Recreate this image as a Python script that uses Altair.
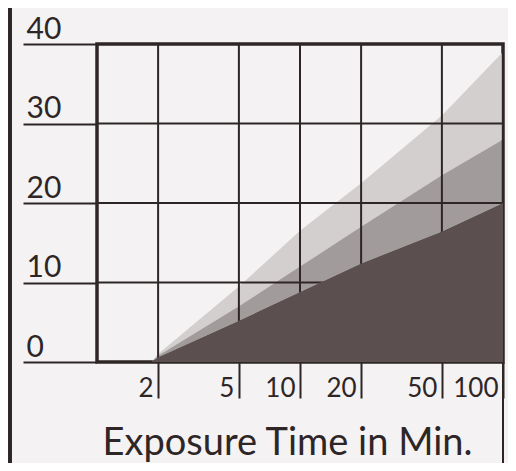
import altair as alt
import pandas as pd

# ---- data ----
t_min = [1.85, 2, 5, 10, 20, 50, 100]
dark_top = [0, 0.6, 5.2, 8.8, 12.4, 16.4, 20.0]
dense_top = [0, 0.8, 7.0, 12.0, 17.0, 23.5, 28.0]
light_top = [0, 1.0, 9.5, 16.5, 22.5, 31.0, 39.0]
zero = [0, 0, 0, 0, 0, 0, 0]
x_ticks = [2, 5, 10, 20, 50, 100]
y_ticks = [0, 10, 20, 30, 40]
x_title = "Exposure Time in Min."

INK = "#2e2626"
BG = "#f4f2f2"
FONT = "Lato"

df = pd.DataFrame({"t": t_min, "dark": dark_top, "dense": dense_top,
                   "light": light_top, "zero": zero})
xt = pd.DataFrame({"v": x_ticks})
yt = pd.DataFrame({"v": y_ticks})

W, H = 406, 318
xs = alt.Scale(type="log", domain=[1, 100], nice=False)
ys = alt.Scale(domain=[0, 40], nice=False)

x_axis = alt.Axis(values=x_ticks, grid=False, domain=False, tickSize=36, tickWidth=2,
                  tickColor=INK, labelFont=FONT, labelFontSize=26, labelColor=INK,
                  labelAlign="right", labelBaseline="alphabetic", labelPadding=-2,
                  labelOffset=-5, labelFlush=False, labelOverlap=False, format="d",
                  title=x_title, titleFont=FONT, titleFontSize=38, titleFontWeight="normal",
                  titleColor=INK, titleX=190, titleY=92, titleAlign="center",
                  titleBaseline="alphabetic")
y_axis = alt.Axis(values=y_ticks, grid=False, domain=False, tickSize=74, tickWidth=2,
                  tickColor=INK, labelFont=FONT, labelFontSize=30, labelColor=INK,
                  labelAlign="left", labelBaseline="alphabetic", labelPadding=-3,
                  labelOffset=-6, labelFlush=False, title="")

base = alt.Chart(df)
light = base.mark_area(color="#cbc6c6", opacity=0.8).encode(
    x=alt.X("t:Q", scale=xs, axis=x_axis),
    y=alt.Y("light:Q", scale=ys, axis=y_axis),
    y2="dense:Q")
dense = base.mark_area(color="#8d8586", opacity=0.8).encode(
    x=alt.X("t:Q", scale=xs), y=alt.Y("dense:Q", scale=ys), y2="dark:Q")
vgrid = alt.Chart(xt).mark_rule(color=INK, strokeWidth=2).encode(
    x=alt.X("v:Q", scale=xs))
hgrid = alt.Chart(yt).mark_rule(color=INK, strokeWidth=2).encode(
    y=alt.Y("v:Q", scale=ys))
dark = base.mark_area(color="#5b4f50", opacity=1).encode(
    x=alt.X("t:Q", scale=xs), y=alt.Y("dark:Q", scale=ys), y2="zero:Q")
left_line = alt.Chart(xt).mark_rule(color=INK, strokeWidth=3).encode(
    x=alt.value(-87), y=alt.value(-44), y2=alt.value(430))
tick100 = alt.Chart(xt).mark_rule(color=INK, strokeWidth=2).encode(
    x=alt.datum(100, scale=xs), y=alt.value(H), y2=alt.value(H + 120))

chart = alt.layer(light, dense, vgrid, hgrid, dark, left_line, tick100).properties(
    width=W, height=H,
    autosize=alt.AutoSizeParams(type="none"),
    padding={"left": 89, "top": 36, "right": 5, "bottom": 101},
).configure(background=BG).configure_view(stroke=INK, strokeWidth=3.5)

chart.save("out.html", embed_options={"renderer": "svg", "actions": False})
